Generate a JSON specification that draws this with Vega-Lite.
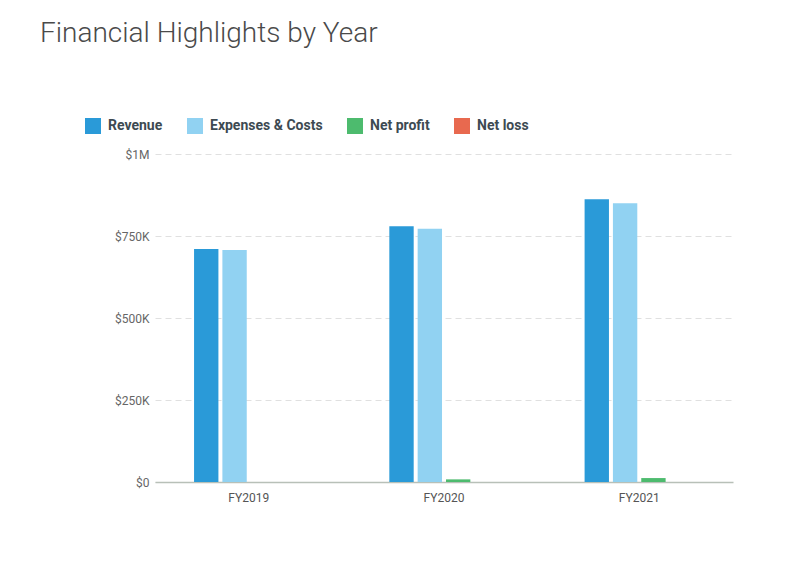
{
  "$schema": "https://vega.github.io/schema/vega-lite/v6.json",
  "width": 578,
  "height": 328,
  "autosize": {"type": "none"},
  "padding": {"left": 155, "top": 154, "right": 67, "bottom": 80},
  "background": "white",
  "title": {
    "text": "Financial Highlights by Year",
    "anchor": "start",
    "frame": "group",
    "dx": -115,
    "dy": -44,
    "fontSize": 28,
    "font": "Roboto",
    "fontWeight": 300,
    "color": "#4a4a4a",
    "baseline": "alphabetic"
  },
  "data": {
    "values": [
      {"year": "FY2019", "series": "Revenue", "value": 710000},
      {"year": "FY2019", "series": "Expenses & Costs", "value": 707000},
      {"year": "FY2019", "series": "Net profit", "value": 0},
      {"year": "FY2019", "series": "Net loss", "value": 0},
      {"year": "FY2020", "series": "Revenue", "value": 780000},
      {"year": "FY2020", "series": "Expenses & Costs", "value": 772000},
      {"year": "FY2020", "series": "Net profit", "value": 8000},
      {"year": "FY2020", "series": "Net loss", "value": 0},
      {"year": "FY2021", "series": "Revenue", "value": 862000},
      {"year": "FY2021", "series": "Expenses & Costs", "value": 850000},
      {"year": "FY2021", "series": "Net profit", "value": 12000},
      {"year": "FY2021", "series": "Net loss", "value": 0}
    ]
  },
  "mark": {"type": "bar"},
  "encoding": {
    "x": {
      "field": "year",
      "type": "nominal",
      "scale": {"paddingInner": 0.44, "paddingOuter": 0.2},
      "axis": {
        "title": null,
        "labelAngle": 0,
        "ticks": false,
        "domain": true,
        "domainColor": "#b8c0b8",
        "domainWidth": 1.5,
        "labelColor": "#555555",
        "labelFont": "Roboto",
        "labelFontSize": 12,
        "labelPadding": 10
      }
    },
    "xOffset": {
      "field": "series",
      "type": "nominal",
      "scale": {"domain": ["Revenue", "Expenses & Costs", "Net profit", "Net loss"], "paddingInner": 0.14}
    },
    "y": {
      "field": "value",
      "type": "quantitative",
      "scale": {"domain": [0, 1000000]},
      "axis": {
        "title": null,
        "values": [0, 250000, 500000, 750000, 1000000],
        "labelExpr": "datum.value == 0 ? '$0' : (datum.value >= 1000000 ? '$' + datum.value / 1000000 + 'M' : '$' + datum.value / 1000 + 'K')",
        "domain": false,
        "ticks": false,
        "grid": true,
        "gridDash": [6, 4],
        "gridColor": "#e0e0e0",
        "labelColor": "#666666",
        "labelFont": "Roboto",
        "labelFontSize": 12,
        "labelPadding": 6
      }
    },
    "color": {
      "field": "series",
      "type": "nominal",
      "scale": {
        "domain": ["Revenue", "Expenses & Costs", "Net profit", "Net loss"],
        "range": ["#2a9ad8", "#91d2f2", "#4dbb6e", "#e8694f"]
      },
      "legend": {
        "title": null,
        "orient": "none",
        "legendX": -70,
        "legendY": -36,
        "direction": "horizontal",
        "symbolType": "square",
        "symbolSize": 256,
        "symbolStrokeWidth": 0,
        "labelFont": "Roboto",
        "labelFontSize": 14,
        "labelFontWeight": "bold",
        "labelColor": "#3d4a52",
        "labelOffset": 7,
        "columnPadding": 24
      }
    }
  },
  "config": {"view": {"stroke": null}}
}
